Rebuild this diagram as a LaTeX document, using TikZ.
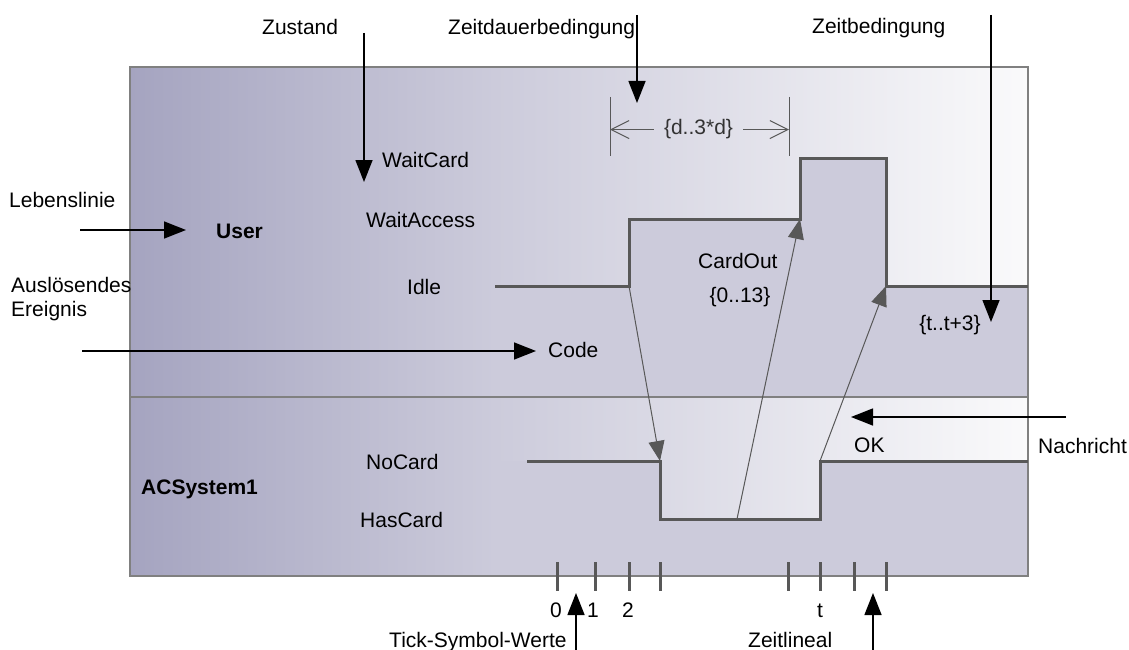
\documentclass[tikz,border=0pt]{standalone}
\usepackage{fontspec}
\setmainfont{Liberation Sans}
\usetikzlibrary{arrows.meta}
\definecolor{gradL}{RGB}{165,164,192}
\definecolor{gradR}{RGB}{250,250,251}
\definecolor{statefill}{RGB}{204,203,219}
\definecolor{frameC}{RGB}{128,128,128}
\definecolor{lineC}{RGB}{88,88,88}
\begin{document}
\begin{tikzpicture}[x=1pt,y=-1pt,
  font=\fontsize{21}{25}\selectfont,
  lbl/.style={inner sep=0pt, anchor=base west, text=black},
  clbl/.style={inner sep=0pt, anchor=base, text=black},
  annot/.style={draw=black, line width=1.5pt, -{Triangle[length=22pt,width=17pt]}},
  msg/.style={draw=lineC, line width=1pt, -{Triangle[length=20pt,width=16pt]}},
  stateline/.style={draw=lineC, line width=3pt, line join=miter},
  tickmark/.style={draw=lineC, line width=3pt},
  durbar/.style={draw=lineC, line width=1pt},
  durarrow/.style={draw=lineC, line width=1pt, -{Straight Barb[length=18pt,width=18pt,line width=1pt]}}]
\useasboundingbox (0,0) rectangle (1129,650);

% frame with gradient (two segments, meeting the state fill colour)
\shade[left color=gradL, right color=statefill] (130,67) rectangle (495.5,576);
\shade[left color=statefill, right color=gradR] (495,67) rectangle (1028,576);

% state curve coordinates
\coordinate (u0) at (495,286);
\coordinate (u1) at (629,286);
\coordinate (u2) at (629,219);
\coordinate (u3) at (800,219);
\coordinate (u4) at (800,158);
\coordinate (u5) at (886,158);
\coordinate (u6) at (886,286);
\coordinate (u7) at (1028,286);
\coordinate (l0) at (527,461);
\coordinate (l1) at (660,461);
\coordinate (l2) at (660,519);
\coordinate (l3) at (820,519);
\coordinate (l4) at (820,461);
\coordinate (l5) at (1028,461);

% fills under curves
\fill[statefill] (u0) -- (u1) -- (u2) -- (u3) -- (u4) -- (u5) -- (u6) -- (u7) -- (1028,397) -- (495,397) -- cycle;
\fill[statefill] (495,461) -- (l1) -- (l2) -- (l3) -- (l4) -- (l5) -- (1028,576) -- (495,576) -- cycle;

% frame border and lane divider
\draw[frameC, line width=2pt] (130,67) rectangle (1028,576);
\draw[frameC, line width=1.5pt] (130,397) -- (1028,397);

% state lines
\draw[stateline] (u0) -- (u1) -- (u2) -- (u3) -- (u4) -- (u5) -- (u6) -- (u7);
\draw[stateline] (l0) -- (l1) -- (l2) -- (l3) -- (l4) -- (l5);

% messages
\coordinate (cardsrc) at (737,519);
\draw[msg] (u1) -- (l1);
\draw[msg] (cardsrc) -- (u3);
\draw[msg] (l4) -- (u6);

% ticks
\foreach \tx in {557,595,629,660,788,820,854,886}
  \draw[tickmark] (\tx,562) -- (\tx,591);
\node[clbl] (tk0) at (556,617) {0};
\node[clbl] (tk1) at (593,617) {1};
\node[clbl] (tk2) at (628,617) {2};
\node[clbl] (tkt) at (820,617) {t};

% duration constraint
\coordinate (dL) at (610,127);
\coordinate (dR) at (789,127);
\draw[durbar] (610,97) -- (610,156);
\draw[durbar] (789,97) -- (789,156);
\node[inner xsep=10pt, inner ysep=0pt, anchor=base, text=black!80] (dur) at (698.5,135) {\{d..3*d\}};
\draw[durarrow] (dur.west) -- (dur.west -| dL);
\draw[durarrow] (dur.east) -- (dur.east -| dR);

% labels inside diagram
\node[lbl] (waitcard) at (382,167) {WaitCard};
\node[lbl] (waitaccess) at (366,227) {WaitAccess};
\node[lbl] (idle) at (407,294) {Idle};
\node[lbl] (user) at (216,238) {\textbf{User}};
\node[lbl] (code) at (548,357) {Code};
\node[lbl] (cardout) at (698,268) {CardOut};
\node[clbl] (cardc) at (740,302) {\{0..13\}};
\node[clbl] (tcon) at (950,330) {\{t..t+3\}};
\node[lbl] (ok) at (854,452) {OK};
\node[lbl] (nocard) at (366,469) {NoCard};
\node[lbl] (hascard) at (360,527) {HasCard};
\node[lbl] (acsys) at (141,494) {\textbf{ACSystem1}};

% annotation labels
\node[lbl] (zustand) at (262,35) {Zustand};
\node[lbl] (zdauer) at (448,35) {Zeitdauerbedingung};
\node[lbl] (zbed) at (812,34) {Zeitbedingung};
\node[lbl] (leben) at (9,207) {Lebenslinie};
\node[lbl] (ausl) at (11,292) {Auslösendes};
\node[lbl] (ereig) at (11,316) {Ereignis};
\node[lbl] (nachr) at (1038,453) {Nachricht};
\node[lbl] (ticksym) at (389,647) {Tick-Symbol-Werte};
\node[lbl] (zlineal) at (748,647) {Zeitlineal};

% annotation arrows
\coordinate (zA) at (364,33);   \coordinate (zB) at (364,182);
\coordinate (zdA) at (637,15);  \coordinate (zdB) at (637,103);
\coordinate (zbA) at (991,15);  \coordinate (zbB) at (991,322);
\coordinate (lA) at (80,230);   \coordinate (lB) at (186,230);
\coordinate (cA) at (82,351);   \coordinate (cB) at (536,351);
\coordinate (nA) at (1066,417); \coordinate (nB) at (851,417);
\coordinate (tA) at (576,650);  \coordinate (tB) at (576,593);
\coordinate (zlA) at (873,650); \coordinate (zlB) at (873,593);
\draw[annot] (zA) -- (zB);
\draw[annot] (zdA) -- (zdB);
\draw[annot] (zbA) -- (zbB);
\draw[annot] (lA) -- (lB);
\draw[annot] (cA) -- (cB);
\draw[annot] (nA) -- (nB);
\draw[annot] (tA) -- (tB);
\draw[annot] (zlA) -- (zlB);
\end{tikzpicture}
\end{document}
